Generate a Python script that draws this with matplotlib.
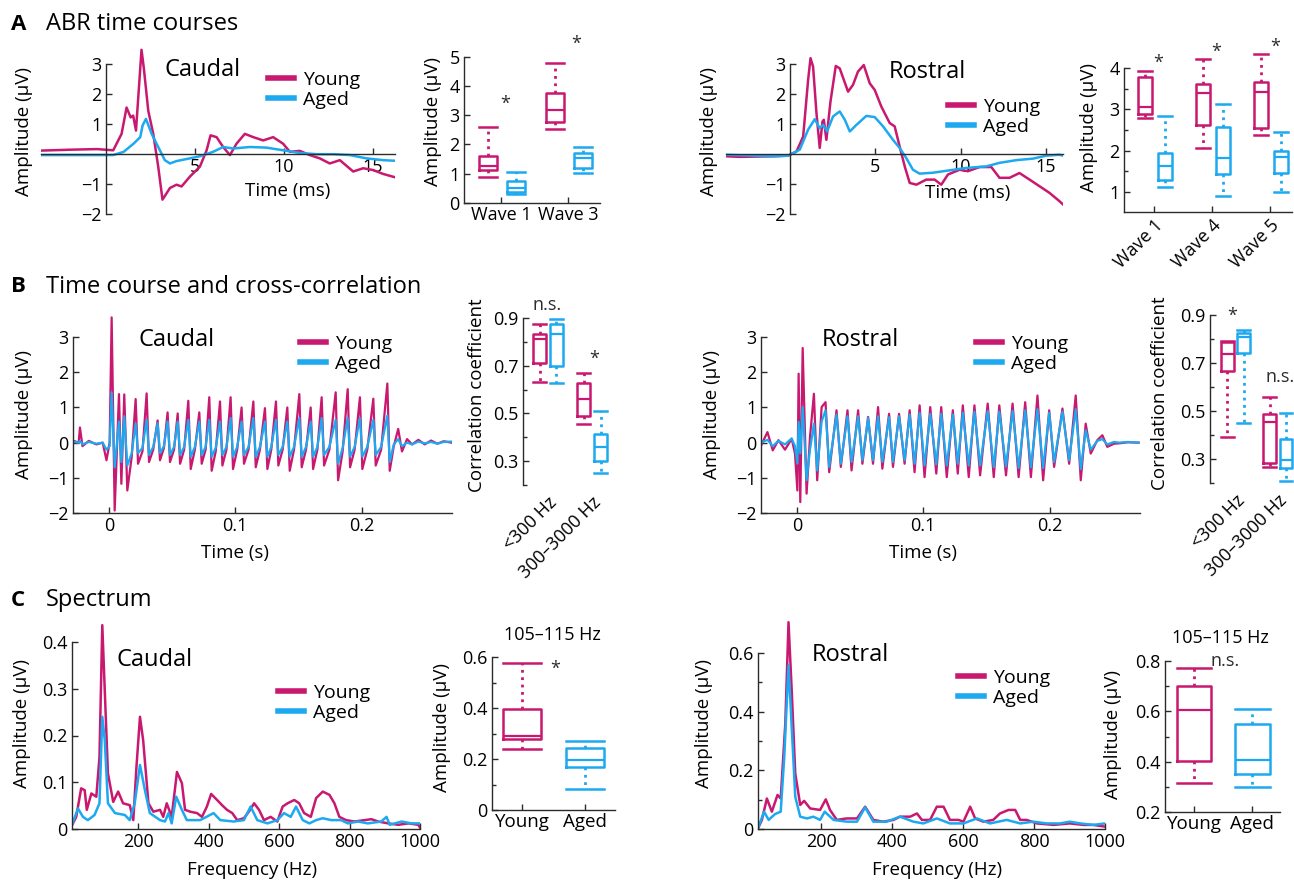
import numpy as np
import matplotlib.pyplot as plt
import matplotlib.transforms as mtransforms
from matplotlib.lines import Line2D
from matplotlib.ticker import FixedLocator

W, H = 1294, 882
YOUNG = '#C9186F'
AGED = '#1DA9F0'
INK = '#2b2b2b'

plt.rcParams['font.family'] = ['Open Sans', 'DejaVu Sans']
plt.rcParams['axes.unicode_minus'] = True

# ---------------- data ----------------
# A: ABR time courses (ms, uV)
a_cau_t_young = [-3.65, -2.0, -0.5, 0.41, 0.88, 1.16, 1.39, 1.53, 1.69, 2.0, 2.13, 2.38, 2.66, 2.94,
                 3.18, 3.6, 3.97, 4.25, 4.72, 5.28, 5.66, 5.88, 6.22, 6.59, 6.97, 7.34, 7.81, 8.28,
                 8.84, 9.4, 9.96, 10.34, 10.9, 11.46, 12.02, 12.58, 13.15, 13.9, 14.46, 15.02, 15.58, 16.24]
a_cau_young = [0.12, 0.15, 0.17, 0.13, 0.68, 1.56, 1.23, 1.29, 0.79, 3.49, 2.88, 1.45, 0.68, -0.42,
               -1.52, -1.13, -1.02, -1.08, -0.75, -0.42, 0.13, 0.63, 0.57, 0.24, -0.03, 0.35, 0.68, 0.57,
               0.46, 0.57, 0.35, 0.08, 0.11, -0.03, -0.14, -0.31, -0.2, -0.58, -0.47, -0.53, -0.66, -0.77]
a_cau_t_aged = [-3.65, 0.41, 1.0, 1.55, 1.93, 2.06, 2.25, 2.57, 2.94, 3.31, 3.6, 3.97, 4.72, 5.28,
                6.03, 6.59, 7.15, 8.09, 9.02, 9.96, 10.9, 11.84, 12.77, 13.71, 14.65, 15.58, 16.24]
a_cau_aged = [-0.03, -0.03, 0.08, 0.35, 0.57, 0.96, 1.18, 0.68, 0.24, -0.2, -0.31, -0.23, -0.14, -0.07,
              0.08, 0.24, 0.19, 0.24, 0.22, 0.13, 0.04, 0.0, 0.0, -0.03, -0.14, -0.2, -0.22]

a_ros_t_young = [-3.74, -2.92, -0.97, -0.1, 0.39, 0.78, 1.07, 1.21, 1.36, 1.56, 1.75, 1.91, 1.99, 2.14,
                 2.38, 2.69, 2.92, 3.41, 3.7, 3.99, 4.33, 4.68, 4.97, 5.36, 5.85, 6.14, 6.43, 6.73,
                 7.02, 7.41, 7.99, 8.48, 8.87, 9.26, 9.94, 10.43, 11.11, 11.8, 12.28, 12.87, 13.45,
                 14.04, 14.62, 15.2, 15.79, 16.0]
a_ros_young = [-0.07, -0.09, -0.07, -0.05, 0.09, 0.59, 2.48, 3.21, 2.93, 1.37, 0.21, 1.09, 1.15, 0.48,
               1.76, 2.95, 2.87, 2.09, 2.32, 2.76, 2.98, 2.37, 2.15, 1.59, 1.04, 0.93, 0.26, -0.41,
               -0.96, -1.02, -0.85, -0.85, -1.02, -0.68, -0.52, -0.57, -0.43, -0.43, -0.79, -0.79, -0.63,
               -0.85, -1.07, -1.29, -1.57, -1.68]
a_ros_t_aged = [-3.74, -0.97, -0.1, 0.58, 1.07, 1.46, 1.75, 1.95, 2.18, 2.53, 2.92, 3.22, 3.51, 3.9,
                4.48, 4.97, 5.46, 6.04, 6.43, 6.82, 7.21, 7.6, 8.38, 9.36, 10.33, 11.5, 12.28, 13.26,
                14.23, 15.01, 15.79, 16.0]
a_ros_aged = [-0.02, -0.07, -0.05, 0.15, 0.82, 1.17, 0.87, 0.98, 0.76, 1.26, 1.43, 1.15, 0.76, 0.98,
              1.28, 1.24, 0.93, 0.48, 0.21, -0.13, -0.52, -0.65, -0.62, -0.54, -0.46, -0.41, -0.29, -0.2,
              -0.15, -0.05, -0.02, -0.05]

# A: wave amplitudes (box stats: low whisker, q1, median, q3, high whisker)
a_cau_waves = ['Wave 1', 'Wave 3']
a_cau_box_young = dict(lo=[0.9, 2.53], q1=[1.11, 2.78], med=[1.27, 3.18], q3=[1.61, 3.76], hi=[2.58, 4.78])
a_cau_box_aged = dict(lo=[0.32, 1.04], q1=[0.38, 1.19], med=[0.52, 1.53], q3=[0.75, 1.72], hi=[1.07, 1.91])
a_ros_waves = ['Wave 1', 'Wave 4', 'Wave 5']
a_ros_box_young = dict(lo=[2.78, 2.07, 2.39], q1=[2.89, 2.62, 2.54], med=[3.05, 3.39, 3.41],
                       q3=[3.79, 3.61, 3.65], hi=[3.93, 4.21, 4.34])
a_ros_box_aged = dict(lo=[1.13, 0.91, 1.01], q1=[1.29, 1.43, 1.45], med=[1.62, 1.83, 1.85],
                      q3=[1.94, 2.56, 2.0], hi=[2.84, 3.13, 2.46])

# B: full time courses (ms, uV)
b_cau_t = [-28, -24, -23, -21, -16, -10, -5, -2, 0.5, 2.1, 4.5, 7.9, 9.8, 12.1, 14.5, 18.0,
           21.1, 23.0, 26.5, 29.8, 31.7, 35.0, 38.5, 40.4, 43.5, 46.4, 48.3, 51.5,
           54.4, 56.3, 59.5, 62.8, 64.7, 68.0, 71.5, 73.4, 76.5, 79.4, 81.3, 84.5,
           87.9, 89.8, 93.0, 96.3, 98.2, 101.5, 105.0, 106.9, 110.5, 114.3, 116.2, 119.5,
           123.5, 125.4, 128.5, 132.2, 134.1, 137.5, 141.2, 143.1, 146.5, 150.7, 152.6, 156.0,
           159.7, 161.6, 165.0, 168.4, 170.3, 174.5, 179.5, 181.4, 185.0, 189.0, 190.9, 194.5,
           198.7, 200.6, 204.5, 209.3, 211.2, 215.5, 220.4, 222.3, 225.5,
           229.0, 232.0, 236.0, 240.0, 245.0, 250.0, 255.0, 260.0, 265.0, 271.0]
b_cau_young = [0.05, 0.0, 0.43, -0.1, 0.05, -0.05, 0.0, -0.5, 0.0, 3.56, -1.93, 1.38, -1.17, 1.37, -1.36, -0.4,
               1.24, -0.6, -0.25, 1.40, -0.55, -0.2, 0.63, -0.5, -0.15, 0.86, -0.55, -0.2,
               0.83, -0.6, -0.2, 1.19, -0.75, -0.2, 0.86, -0.6, -0.2, 1.29, -0.8, -0.25,
               1.17, -0.65, -0.2, 1.29, -0.75, -0.2, 1.0, -0.6, -0.2, 1.17, -0.7, -0.2,
               0.98, -0.75, -0.2, 1.17, -0.65, -0.2, 1.0, -0.8, -0.2, 1.38, -0.7, -0.2,
               1.0, -0.75, -0.2, 1.29, -0.65, -0.2, 1.43, -1.07, -0.25, 1.52, -0.7, -0.2,
               1.29, -0.75, -0.2, 1.25, -0.65, -0.2, 1.68, -0.8, -0.1,
               0.39, -0.25, 0.1, -0.05, 0.08, -0.05, 0.06, -0.03, 0.04, 0.0]
b_cau_aged = [0.02, 0.0, 0.05, -0.05, 0.02, -0.03, 0.0, -0.2, -0.1, 1.43, -0.7, 0.6, -0.55, 0.75, -0.65, -0.3,
              0.55, -0.3, -0.15, 0.65, -0.35, -0.12, 0.55, -0.3, -0.1, 0.6, -0.35, -0.12,
              0.6, -0.35, -0.12, 0.65, -0.4, -0.12, 0.6, -0.35, -0.12, 0.65, -0.4, -0.15,
              0.6, -0.35, -0.12, 0.7, -0.4, -0.12, 0.6, -0.35, -0.12, 0.7, -0.4, -0.12,
              0.6, -0.4, -0.12, 0.65, -0.35, -0.12, 0.6, -0.4, -0.12, 0.7, -0.4, -0.12,
              0.6, -0.4, -0.12, 0.7, -0.35, -0.12, 0.65, -0.6, -0.15, 0.7, -0.4, -0.12,
              0.7, -0.4, -0.12, 0.65, -0.35, -0.12, 0.77, -0.55, -0.05,
              0.1, -0.1, 0.0, -0.05, 0.03, -0.02, 0.02, -0.03, 0.02, 0.03]

b_ros_t = [-28.4, -23.4, -19.2, -14.7, -9.5, -4.2, -1.6, 0.3, 1.3, 2.6, 4.5, 7.6, 10.3, 13.4, 16.0,
           19.5, 22.6, 25.5, 31.3, 34.7, 40.0, 43.2, 48.4, 51.8, 56.3, 60.2, 64.2, 67.6,
           72.9, 76.0, 80.8, 85.2, 89.2, 93.1, 97.1, 101.0, 105.5, 110.3, 114.2, 118.6,
           123.4, 127.3, 131.3, 136.0, 140.5, 145.0, 151.0, 155.8, 160.2, 165.5, 170.7, 175.5,
           180.7, 185.2, 190.4, 194.9, 199.7, 203.6, 210.2, 215.5, 220.7, 224.7,
           228.6, 232.6, 237.8, 241.8, 245.7, 251.0, 254.9, 262.0, 270.5]
b_ros_young = [-0.08, 0.30, -0.22, 0.07, -0.2, 0.11, -0.31, -1.36, 1.96, -1.69, 2.69, -1.45, 0.16, 1.39, -1.07,
               1.01, 1.15, -0.84, 0.92, -0.69, 0.92, -0.79, 0.92, -0.6, 0.73, -0.6, 1.01, -0.74,
               0.82, -0.69, 0.82, -0.6, 0.92, -0.84, 1.06, -0.98, 1.01, -0.88, 1.01, -0.98,
               0.92, -0.88, 1.06, -0.98, 1.06, -0.93, 1.11, -0.98, 1.06, -0.93, 1.11, -0.98,
               1.15, -0.98, 1.34, -1.07, 0.92, -0.69, 0.97, -0.6, 1.34, -1.07,
               0.54, -0.31, 0.07, 0.21, -0.12, -0.03, -0.02, 0.01, 0.0]
b_ros_aged = [0.0, 0.08, -0.1, 0.05, -0.05, 0.12, -0.1, -0.6, 0.59, -0.3, 1.01, -1.07, -0.2, 0.54, -0.79,
              0.6, 0.92, -0.69, 0.8, -0.6, 0.75, -0.55, 0.75, -0.5, 0.7, -0.5, 0.75, -0.55,
              0.72, -0.55, 0.75, -0.5, 0.8, -0.6, 0.85, -0.65, 0.82, -0.62, 0.82, -0.65,
              0.8, -0.6, 0.85, -0.65, 0.88, -0.65, 0.9, -0.7, 0.88, -0.68, 0.9, -0.72,
              0.92, -0.7, 0.95, -0.72, 0.85, -0.55, 0.88, -0.5, 0.95, -0.75,
              0.35, -0.2, 0.05, 0.1, -0.05, 0.02, 0.0, 0.02, 0.0]

# B: correlation coefficients
b_bands = ['<300 Hz', '300\u20133000 Hz']
b_cau_box_young = dict(lo=[0.633, 0.456], q1=[0.712, 0.49], med=[0.81, 0.559], q3=[0.832, 0.629], hi=[0.875, 0.671])
b_cau_box_aged = dict(lo=[0.626, 0.249], q1=[0.70, 0.30], med=[0.832, 0.36], q3=[0.875, 0.412], hi=[0.896, 0.51])
b_ros_box_young = dict(lo=[0.39, 0.265], q1=[0.667, 0.284], med=[0.736, 0.455], q3=[0.786, 0.486], hi=[0.79, 0.557])
b_ros_box_aged = dict(lo=[0.45, 0.21], q1=[0.743, 0.262], med=[0.81, 0.296], q3=[0.824, 0.383], hi=[0.837, 0.49])

# C: spectra (Hz, uV)
c_cau_f_young = [10, 24, 38, 48, 54, 67, 81, 90, 98, 105, 114, 129, 143, 157, 176, 186, 195, 205, 214,
                 229, 243, 262, 271, 281, 295, 310, 324, 333, 348, 367, 381, 395, 407, 424, 438, 452,
                 467, 481, 500, 514, 529, 543, 557, 576, 595, 610, 624, 643, 657, 671, 690, 705, 724,
                 743, 757, 771, 790, 814, 843, 862, 881, 910, 938, 967, 995, 1000]
c_cau_young = [0.005, 0.026, 0.087, 0.083, 0.041, 0.076, 0.069, 0.154, 0.436, 0.297, 0.119, 0.058, 0.08,
               0.055, 0.051, 0.019, 0.133, 0.24, 0.19, 0.055, 0.037, 0.041, 0.026, 0.055, 0.026, 0.122,
               0.098, 0.041, 0.037, 0.034, 0.026, 0.048, 0.075, 0.062, 0.051, 0.041, 0.034, 0.019, 0.023,
               0.037, 0.055, 0.041, 0.019, 0.026, 0.016, 0.048, 0.055, 0.062, 0.055, 0.034, 0.026, 0.066,
               0.080, 0.073, 0.055, 0.026, 0.019, 0.016, 0.019, 0.021, 0.016, 0.012, 0.009, 0.012, 0.009,
               0.003]
c_cau_f_aged = [10, 29, 43, 57, 76, 90, 98, 105, 114, 134, 162, 176, 190, 205, 219, 233, 262, 276, 286,
                295, 308, 324, 338, 376, 414, 433, 471, 500, 519, 538, 567, 595, 614, 633, 648, 667,
                686, 705, 724, 748, 776, 795, 824, 852, 890, 905, 914, 948, 976, 1000]
c_cau_aged = [0.005, 0.044, 0.026, 0.019, 0.030, 0.055, 0.24, 0.19, 0.055, 0.034, 0.030, 0.019, 0.055,
              0.137, 0.083, 0.034, 0.019, 0.016, 0.034, 0.012, 0.069, 0.041, 0.019, 0.019, 0.034, 0.019,
              0.016, 0.019, 0.048, 0.019, 0.012, 0.019, 0.034, 0.026, 0.048, 0.019, 0.012, 0.019, 0.023,
              0.019, 0.019, 0.012, 0.016, 0.012, 0.016, 0.026, 0.009, 0.016, 0.012, 0.012]

c_ros_f_young = [22, 33, 47, 61, 77, 86, 99, 108, 117, 127, 141, 152, 169, 197, 213, 225, 244, 272, 301,
                 324, 347, 375, 404, 422, 451, 470, 484, 507, 526, 545, 563, 587, 601, 620, 634, 657,
                 685, 704, 728, 747, 761, 779, 808, 855, 901, 939, 967, 1000]
c_ros_young = [0.002, 0.031, 0.104, 0.059, 0.116, 0.104, 0.36, 0.705, 0.473, 0.189, 0.082, 0.096, 0.070,
               0.065, 0.101, 0.065, 0.031, 0.036, 0.036, 0.076, 0.031, 0.025, 0.031, 0.042, 0.042, 0.053,
               0.031, 0.031, 0.076, 0.076, 0.031, 0.031, 0.025, 0.076, 0.036, 0.025, 0.031, 0.053, 0.065,
               0.065, 0.031, 0.031, 0.019, 0.014, 0.019, 0.014, 0.014, 0.008]
c_ros_f_aged = [22, 39, 52, 70, 86, 96, 108, 117, 127, 141, 160, 178, 197, 210, 235, 272, 301, 324, 347,
                385, 422, 460, 488, 526, 563, 601, 639, 676, 723, 761, 798, 836, 873, 901, 930, 967, 1000]
c_ros_aged = [0.002, 0.059, 0.031, 0.051, 0.059, 0.246, 0.558, 0.348, 0.110, 0.042, 0.036, 0.042, 0.031,
              0.059, 0.031, 0.025, 0.025, 0.074, 0.025, 0.025, 0.042, 0.025, 0.019, 0.036, 0.019, 0.019,
              0.036, 0.019, 0.031, 0.019, 0.025, 0.019, 0.019, 0.025, 0.019, 0.014, 0.019]

# C: 105-115 Hz amplitude
c_groups = ['Young', 'Aged']
c_cau_box = dict(lo=[0.24, 0.081], q1=[0.277, 0.167], med=[0.29, 0.196], q3=[0.395, 0.242], hi=[0.575, 0.272])
c_ros_box = dict(lo=[0.315, 0.30], q1=[0.401, 0.35], med=[0.607, 0.405], q3=[0.70, 0.548], hi=[0.771, 0.61])

# ---------------- helpers ----------------
fig = plt.figure(figsize=(W / 100, H / 100), dpi=100)
FS = 13        # tick labels
LFS = 13.5     # axis labels
TFS = 17       # panel names
LW = 1.8


def pax(x0, y0, x1, y1):
    return fig.add_axes([x0 / W, 1 - y1 / H, (x1 - x0) / W, (y1 - y0) / H])


def style(ax):
    for s in ['top', 'right']:
        ax.spines[s].set_visible(False)
    for s in ['left', 'bottom']:
        ax.spines[s].set_color(INK)
        ax.spines[s].set_linewidth(1.0)
    ax.tick_params(which='both', direction='in', color=INK, width=1.0, labelsize=FS, pad=3)
    ax.tick_params(which='major', length=4)
    ax.tick_params(which='minor', length=3)
    ax.patch.set_alpha(0)


def ylab(ax, text, xpix):
    ax.set_ylabel(text, fontsize=LFS)
    ax.yaxis.label.set_va('center')
    tr = mtransforms.blended_transform_factory(fig.transFigure, ax.transAxes)
    ax.yaxis.set_label_coords(xpix / W, 0.5, transform=tr)


def xlab(ax, text, xpix, ypix):
    ax.set_xlabel(text, fontsize=LFS)
    ax.xaxis.label.set_va('center')
    ax.xaxis.set_label_coords(xpix / W, 1 - ypix / H, transform=fig.transFigure)


def legend(ax, xpix, ypix):
    h = [Line2D([], [], color=YOUNG, lw=4), Line2D([], [], color=AGED, lw=4)]
    ax.legend(h, ['Young', 'Aged'], loc='upper left', bbox_to_anchor=(xpix / W, 1 - ypix / H),
              bbox_transform=fig.transFigure, frameon=False, fontsize=14, handlelength=1.35,
              handletextpad=0.45, labelspacing=0.08, borderpad=0, borderaxespad=0)


def boxes(ax, pos, st, color, width):
    stats = [dict(whislo=a, q1=b, med=c, q3=d, whishi=e, fliers=[])
             for a, b, c, d, e in zip(st['lo'], st['q1'], st['med'], st['q3'], st['hi'])]
    ax.bxp(stats, positions=pos, widths=width, capwidths=width, showfliers=False, manage_ticks=False,
           boxprops=dict(color=color, lw=1.8), whiskerprops=dict(color=color, lw=2.0, ls=':'),
           capprops=dict(color=color, lw=1.8), medianprops=dict(color=color, lw=1.6))


def mark(ax, x, y, s, size=13):
    ax.text(x, y, s, ha='center', va='center', fontsize=size, color=INK, clip_on=False)


def abr_axis(ax, xlim):
    style(ax)
    ax.set_xlim(*xlim)
    ax.set_ylim(-2, 3.55)
    ax.spines['left'].set_position(('data', 0))
    ax.spines['left'].set_bounds(-2, 3)
    ax.spines['bottom'].set_position(('data', 0))
    ax.set_yticks([-2, -1, 1, 2, 3])
    ax.set_xticks([5, 10, 15])


# ---------------- section titles ----------------
for letter, title, y in [('A', 'ABR time courses', 24), ('B', 'Time course and cross-correlation', 287),
                         ('C', 'Spectrum', 600)]:
    fig.text(11 / W, 1 - y / H, letter, fontsize=16, fontweight='bold', va='center', ha='left')
    fig.text(46 / W, 1 - y / H, title, fontsize=17, va='center', ha='left')

# ---------------- A caudal trace ----------------
ax = pax(41, 48, 395, 214)
abr_axis(ax, (-3.65, 16.25))
ax.plot(a_cau_t_young, a_cau_young, color=YOUNG, lw=LW)
ax.plot(a_cau_t_aged, a_cau_aged, color=AGED, lw=LW)
ylab(ax, 'Amplitude (\u03bcV)', 24)
xlab(ax, 'Time (ms)', 288, 191)
ax.text(203 / W, 1 - 70 / H, 'Caudal', transform=fig.transFigure, fontsize=TFS, ha='center', va='center')
legend(ax, 268, 71)

# ---------------- A caudal boxes ----------------
ax = pax(464, 39, 600, 203)
style(ax)
ax.set_xlim(0.45, 2.48)
ax.set_ylim(0, 5.6)
ax.spines['left'].set_bounds(0, 5)
x = np.arange(1, len(a_cau_waves) + 1)
boxes(ax, x - 0.19, a_cau_box_young, YOUNG, 0.27)
boxes(ax, x + 0.22, a_cau_box_aged, AGED, 0.27)
ax.set_xticks(x)
ax.set_xticklabels(a_cau_waves)
ax.tick_params(axis='x', pad=2)
ax.set_yticks([0, 1, 2, 3, 4, 5])
ylab(ax, 'Amplitude (\u03bcV)', 433)
mark(ax, 1.06, 3.4, '*')
mark(ax, 2.13, 5.45, '*')

# ---------------- A rostral trace ----------------
ax = pax(726, 48, 1063, 214)
abr_axis(ax, (-3.74, 16.0))
ax.plot(a_ros_t_young, a_ros_young, color=YOUNG, lw=LW)
ax.plot(a_ros_t_aged, a_ros_aged, color=AGED, lw=LW)
ylab(ax, 'Amplitude (\u03bcV)', 709)
xlab(ax, 'Time (ms)', 968, 193)
ax.text(927 / W, 1 - 72 / H, 'Rostral', transform=fig.transFigure, fontsize=TFS, ha='center', va='center')
legend(ax, 948, 98)

# ---------------- A rostral boxes ----------------
ax = pax(1124, 43, 1292, 212)
style(ax)
ax.set_xlim(0.483, 3.38)
ax.set_ylim(0.52, 4.6)
ax.spines['left'].set_bounds(0.52, 4)
x = np.arange(1, len(a_ros_waves) + 1)
boxes(ax, x - 0.16, a_ros_box_young, YOUNG, 0.24)
boxes(ax, x + 0.19, a_ros_box_aged, AGED, 0.24)
ax.set_xticks(x)
ax.set_xticklabels(a_ros_waves, rotation=45, ha='right', va='top', rotation_mode='anchor')
ax.set_yticks([1, 2, 3, 4])
ax.yaxis.set_minor_locator(FixedLocator([1.5, 2.5, 3.5]))
ylab(ax, 'Amplitude (\u03bcV)', 1089)
mark(ax, 1.07, 4.12, '*')
mark(ax, 2.07, 4.39, '*')
mark(ax, 3.09, 4.51, '*')

# ---------------- B traces ----------------
for (x0, x1, t, yv, av, name, ylx, lx, tx) in [
        (73, 452, b_cau_t, b_cau_young, b_cau_aged, 'Caudal', 24, 300, 177),
        (761, 1140, b_ros_t, b_ros_young, b_ros_aged, 'Rostral', 712, 976, 860)]:
    ax = pax(x0, 316, x1, 513)
    style(ax)
    ax.plot(np.array(t) / 1000, yv, color=YOUNG, lw=1.6)
    ax.plot(np.array(t) / 1000, av, color=AGED, lw=1.6)
    ax.set_xlim(-0.0285, 0.2716)
    ax.set_ylim(-2, 3.6)
    ax.spines['left'].set_bounds(-2, 3)
    ax.set_yticks([-2, -1, 0, 1, 2, 3])
    ax.set_xticks([0, 0.1, 0.2])
    ax.set_xticklabels(['0', '0.1', '0.2'])
    ylab(ax, 'Amplitude (\u03bcV)', ylx)
    xlab(ax, 'Time (s)', (x0 + 162), 553)
    ax.text(tx / W, 1 - 340 / H, name, transform=fig.transFigure, fontsize=TFS, ha='center', va='center')
    legend(ax, lx, 335)

# ---------------- B boxes ----------------
for (x0, x1, xl, yb, ytop, sy, by, ay, marks, ylx) in [
        (523, 612, (0.43, 2.45), 485, 318, 238.5, b_cau_box_young, b_cau_box_aged,
         [(0.98, 0.955, 'n.s.'), (2.05, 0.73, '*')], 477),
        (1210, 1294, (0.4, 2.38), 483, 315, 240.0, b_ros_box_young, b_ros_box_aged,
         [(0.92, 0.895, '*'), (2.05, 0.64, 'n.s.')], 1160)]:
    ax = pax(x0, ytop - 12, x1, yb)
    style(ax)
    ax.spines['bottom'].set_visible(False)
    ax.set_xlim(*xl)
    ax.set_ylim(0.2, 0.9 + 12 / sy)
    ax.spines['left'].set_bounds(0.2, 0.9)
    x = np.arange(1, len(b_bands) + 1)
    boxes(ax, x - 0.19, by, YOUNG, 0.3)
    boxes(ax, x + 0.19, ay, AGED, 0.3)
    ax.set_yticks([0.3, 0.5, 0.7, 0.9])
    ax.yaxis.set_minor_locator(FixedLocator([0.2, 0.4, 0.6, 0.8]))
    ax.set_xticks(x)
    ax.set_xticklabels(b_bands, rotation=45, ha='right', va='top', rotation_mode='anchor')
    ax.tick_params(axis='x', length=0, pad=6)
    ylab(ax, 'Correlation coefficient', ylx)
    for mx, my, s in marks:
        mark(ax, mx, my, s, 13 if s == '*' else FS)

# ---------------- C spectra ----------------
for (x0, x1, xl, yl, top, fy, yv, fa, av, name, tx, ty, lx, ly, ylx, yt, ymin) in [
        (72, 420, (12, 1000), (0, 0.45), 0.4, c_cau_f_young, c_cau_young, c_cau_f_aged, c_cau_aged,
         'Caudal', 155, 660, 278, 684, 22, [0, 0.1, 0.2, 0.3, 0.4], []),
        (758, 1105, (22, 1000), (0, 0.72), 0.6, c_ros_f_young, c_ros_young, c_ros_f_aged, c_ros_aged,
         'Rostral', 850, 655, 958, 669, 704, [0, 0.2, 0.4, 0.6], [0.1, 0.3, 0.5])]:
    ax = pax(x0, 829 - (829 - 642 if top == 0.4 else 829 - 653) * yl[1] / top, x1, 829)
    style(ax)
    ax.plot(fy, yv, color=YOUNG, lw=LW)
    ax.plot(fa, av, color=AGED, lw=LW)
    ax.set_xlim(*xl)
    ax.set_ylim(*yl)
    ax.spines['left'].set_bounds(0, top)
    ax.set_yticks(yt)
    ax.set_yticklabels([('0' if v == 0 else f'{v:g}') for v in yt])
    ax.yaxis.set_minor_locator(FixedLocator(ymin))
    ax.set_xticks([200, 400, 600, 800, 1000])
    ylab(ax, 'Amplitude (\u03bcV)', ylx)
    xlab(ax, 'Frequency (Hz)', (x0 + x1) / 2 + 6, 870)
    ax.text(tx / W, 1 - ty / H, name, transform=fig.transFigure, fontsize=TFS, ha='center', va='center')
    legend(ax, lx, ly)

# ---------------- C boxes ----------------
for (x0, x1, xl, ybot, ylim, ypx, st, yt, ymin, title, tpos, marks, ylx) in [
        (492, 615, (0.52, 2.48), 810, (0, 0.65), 255.0, c_cau_box, [0, 0.2, 0.4, 0.6], [0.1, 0.3, 0.5],
         '105\u2013115 Hz', (1.49, 0.686), [(1.52, 0.555, '*')], 442),
        (1165, 1280, (0.5, 2.48), 812, (0.2, 0.82), 251.5, c_ros_box, [0.2, 0.4, 0.6, 0.8], [0.3, 0.5, 0.7],
         '105\u2013115 Hz', (1.45, 0.892), [(1.53, 0.80, 'n.s.')], 1113)]:
    ax = pax(x0, ybot - (ylim[1] - ylim[0]) * ypx, x1, ybot)
    style(ax)
    ax.set_xlim(*xl)
    ax.set_ylim(*ylim)
    ax.spines['left'].set_bounds(ylim[0], yt[-1])
    x = np.arange(1, len(c_groups) + 1)
    for i, col in enumerate([YOUNG, AGED]):
        one = {k: [v[i]] for k, v in st.items()}
        boxes(ax, [x[i]], one, col, 0.6)
    ax.set_xticks(x)
    ax.set_xticklabels(c_groups, fontsize=LFS)
    ax.tick_params(axis='x', pad=2)
    ax.set_yticks(yt)
    ax.set_yticklabels([('0' if v == 0 else f'{v:g}') for v in yt])
    ax.yaxis.set_minor_locator(FixedLocator(ymin))
    ylab(ax, 'Amplitude (\u03bcV)', ylx)
    ax.text(tpos[0], tpos[1], title, ha='center', va='center', fontsize=FS, clip_on=False)
    for mx, my, s in marks:
        mark(ax, mx, my, s, 13 if s == '*' else FS)

fig.savefig('out.png', dpi=100)
